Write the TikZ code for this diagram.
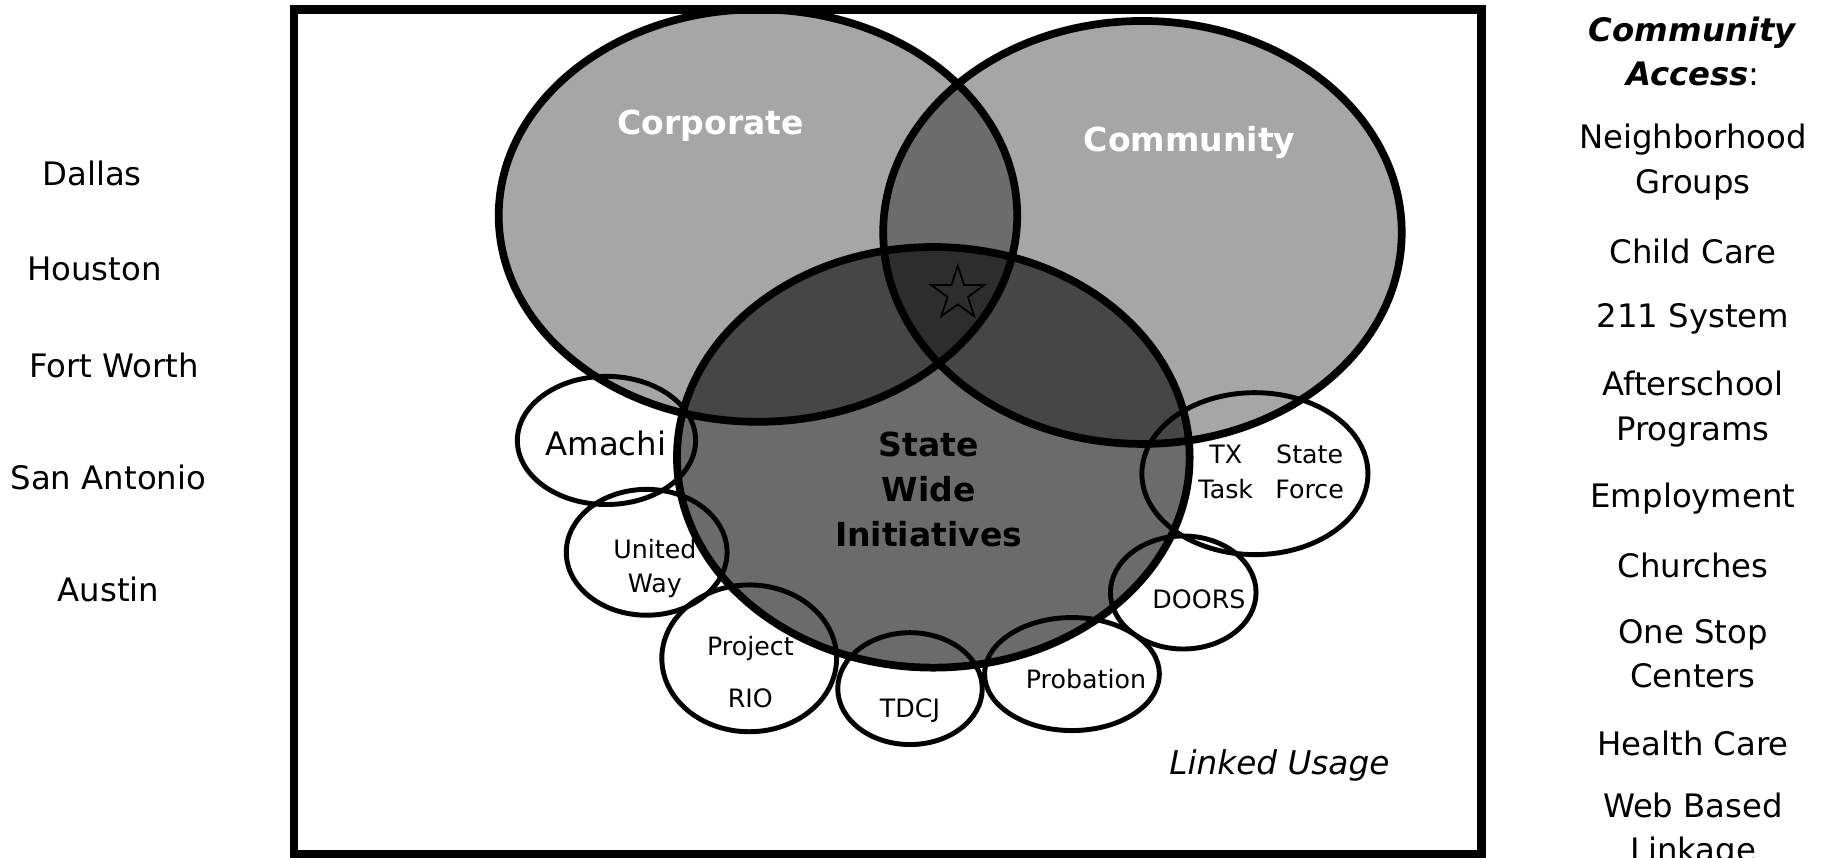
\documentclass[tikz,border=0pt]{standalone}
\usepackage{fontspec}
\setmainfont{DejaVu Sans}
\usetikzlibrary{shapes.geometric}
\newlength{\unitpx}
\setlength{\unitpx}{0.11652mm}
\tikzset{venn/.style={draw,ellipse,line width=2.2pt,fill=black,inner sep=0pt}}
\tikzset{link/.style={draw,ellipse,line width=1.4pt,inner sep=0pt}}
\tikzset{city/.style={font=\fontsize{9.2}{11}\selectfont}}
\tikzset{access/.style={align=center,font=\fontsize{9.2}{12.6}\selectfont}}
\tikzset{small/.style={align=center,font=\fontsize{7.2}{9.9}\selectfont}}
\tikzset{title/.style={align=center,font=\fontsize{9.4}{12.7}\selectfont\bfseries}}

\begin{document}
\begin{tikzpicture}[x=0.11652mm,y=-0.11652mm]

    \useasboundingbox (0,0) rectangle (1568,736);
    \draw[line width=2.4pt] (252.5,8) rectangle (1271.5,733);

    % the three big sets
    \node[venn,fill opacity=0.35,minimum width=445\unitpx,minimum height=354\unitpx] (corp) at (650.5,185) {};
    \node[venn,fill opacity=0.35,minimum width=445\unitpx,minimum height=363\unitpx] (comm) at (980.5,199.5) {};
    \node[venn,fill opacity=0.58,minimum width=440\unitpx,minimum height=361\unitpx] (state) at (801,392.5) {};
    \node[title,text=white] at (610,108) {Corporate};
    \node[title,text=white] at (1021,122) {Community};
    \node[title] at (797,420) {State\\Wide\\Initiatives};
    \node[star,star points=5,star point ratio=2.6,draw,line width=0.5pt,
          minimum size=48\unitpx,inner sep=0pt] (star) at (822,252) {};

    % linked programs
    \node[link,minimum width=153\unitpx,minimum height=110\unitpx] (amachi) at (520.5,378) {};
    \node[link,minimum width=138\unitpx,minimum height=108\unitpx] (uway) at (555,474) {};
    \node[link,minimum width=150\unitpx,minimum height=126\unitpx] (rio) at (643,565) {};
    \node[link,minimum width=124\unitpx,minimum height=96\unitpx] (tdcj) at (781,591) {};
    \node[link,minimum width=150\unitpx,minimum height=97\unitpx] (prob) at (920,578.5) {};
    \node[link,minimum width=125\unitpx,minimum height=97\unitpx] (doors) at (1015.5,508.5) {};
    \node[link,minimum width=194\unitpx,minimum height=139\unitpx] (txsf) at (1077,406.5) {};

    \node[city] at (520,381) {Amachi};
    \node[small] at (562,488) {United\\Way};
    \node[small,font=\fontsize{7.2}{14.9}\selectfont] at (644,577) {Project\\RIO};
    \node[small] at (781,610) {TDCJ};
    \node[small] at (932,583) {Probation};
    \node[small] at (1029,514) {DOORS};
    \node[small] at (1052,405) {TX\\Task};
    \node[small] at (1124,405) {State\\Force};
    \node[city,font=\fontsize{9.3}{11}\selectfont\itshape] (usage) at (1098,657) {Linked Usage};

    % cities
    \node[city] (dallas) at (79,149) {Dallas};
    \node[city] (houston) at (81,231) {Houston};
    \node[city] (fortworth) at (98,314) {Fort Worth};
    \node[city] (sanantonio) at (93,410) {San Antonio};
    \node[city] (austin) at (93,506) {Austin};

    % community access list
    \node[access] (acc0) at (1453,44) {\textbf{\textit{Community}}\\\textbf{\textit{Access}}:};
    \node[access] (acc1) at (1453,139) {Neighborhood\\Groups};
    \node[access] (acc2) at (1453,216) {Child Care};
    \node[access] (acc3) at (1453,274) {211 System};
    \node[access] (acc4) at (1453,351) {Afterschool\\Programs};
    \node[access] (acc5) at (1453,428) {Employment};
    \node[access] (acc6) at (1453,485) {Churches};
    \node[access] (acc7) at (1453,561) {One Stop\\Centers};
    \node[access] (acc8) at (1453,638) {Health Care};
    \node[access] (acc9) at (1453,713) {Web Based\\Linkage};

\end{tikzpicture}
\end{document}
